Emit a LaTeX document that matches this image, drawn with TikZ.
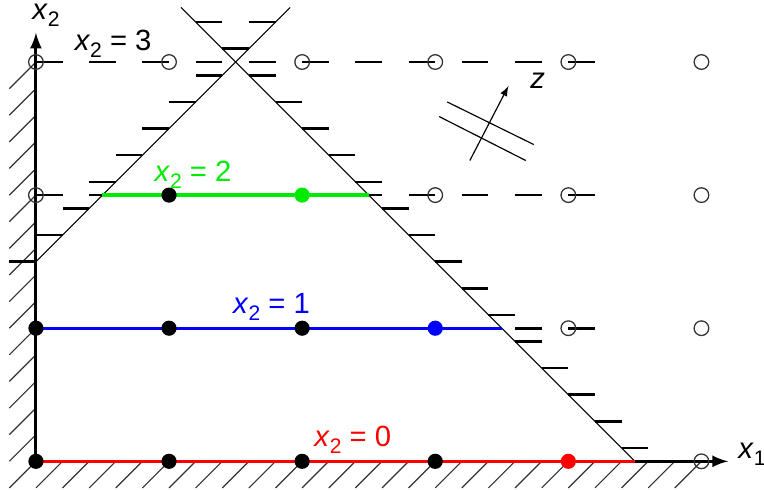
\documentclass[tikz,border=0pt]{standalone}
\usepackage{fontspec}
\setmainfont{Liberation Sans}
\usetikzlibrary{arrows}
\definecolor{lgreen}{RGB}{0,235,0}
\newcommand{\xsub}[1]{\textit{x}\raisebox{-0.45ex}{\small #1}}

\begin{document}
\begin{tikzpicture}[x=2cm,y=2cm,font=\fontsize{12.5}{14}\selectfont,
  hatch/.style={line width=0.5pt,black!80},
  hline/.style={line width=1.1pt},
  level/.style={line width=1.1pt,dash pattern=on 0.4cm off 0.4cm},
  thinline/.style={line width=0.5pt},
  free/.style={draw=black!80,line width=0.55pt}]
\useasboundingbox (-0.27,-0.21) rectangle (5.47,3.466);

% Hatching of the axes
\foreach \k in {0,...,14}
  \draw[hatch] (-0.2,{0.2*\k}) -- (0,{0.2*\k+0.2});
\foreach \k in {0,...,25}
  \draw[hatch] ({0.2*\k-0.2},-0.2) -- ({0.2*\k},0);

% Dashed levels
\foreach \y in {1,2,3}
  \draw[level] (0,\y) -- (4.2,\y);

% Constraints
\draw[thinline] (0,1.5) -- (1.91,3.41);
\draw[thinline] (4.5,0) -- (1.09,3.41);
\foreach \k in {0,...,9}
  \draw[hline] ({0.2*\k},{1.5+0.2*\k}) -- ++(-0.2,0);
\foreach \k in {0,...,16}
  \draw[hline] ({4.4-0.2*\k},{0.1+0.2*\k}) -- ++(0.2,0);

% Axes
\draw[-latex,line width=1.3pt] (0,0) -- (5.2,0);
\draw[-latex,line width=1.3pt] (0,0) -- (0,3.22);
\node (xone) at (5.38,0.05) {\xsub{1}};
\node (xtwo) at (0.075,3.35) {\xsub{2}};

% Lines x2 = const
\draw[red,line width=1.4pt] (0,0) -- (4.5,0);
\draw[blue,line width=1.4pt] (0,1) -- (3.5,1);
\draw[lgreen,line width=1.4pt] (0.5,2) -- (2.5,2);

\node[red] (lab0) at (2.38,0.16) {\xsub{2} = 0};
\node[blue] (lab1) at (1.77,1.16) {\xsub{2} = 1};
\node[lgreen] (lab2) at (1.18,2.15) {\xsub{2} = 2};
\node (lab3) at (0.58,3.14) {\xsub{2} = 3};

% Direction z
\draw[thinline] (3.09,2.70) -- (3.74,2.38);
\draw[thinline] (3.03,2.59) -- (3.68,2.26);
\draw[thinline,-latex] (3.26,2.26) -- (3.55,2.82);
\node (zlab) at (3.77,2.86) {\textit{z}};

% Points
\foreach \p in {(0,0),(1,0),(2,0),(3,0),(0,1),(1,1),(2,1),(1,2)}
  \fill \p circle (0.057);
\fill[red] (4,0) circle (0.057);
\fill[blue] (3,1) circle (0.057);
\fill[lgreen] (2,2) circle (0.057);
\foreach \p in {(5,0),(4,1),(5,1),(0,2),(3,2),(4,2),(5,2),
                (0,3),(1,3),(2,3),(3,3),(4,3),(5,3)}
  \draw[free] \p circle (0.055);

\end{tikzpicture}
\end{document}
